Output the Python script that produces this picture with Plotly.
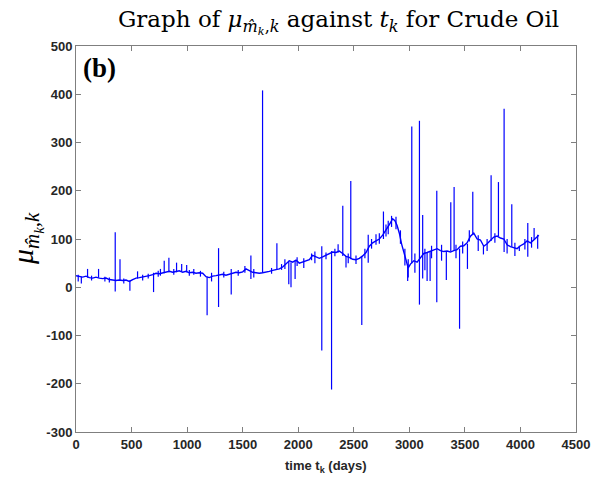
import plotly.graph_objects as go

# Baseline of the series (days, value)
base_t = [0, 30, 60, 90, 120, 150, 180, 210, 240, 270, 300, 330, 360, 390, 420, 450, 480, 510, 540, 570,
          600, 630, 660, 690, 720, 750, 780, 810, 840, 870, 900, 930, 960, 990, 1020, 1050, 1080, 1110, 1140, 1170,
          1200, 1230, 1260, 1290, 1320, 1350, 1380, 1410, 1440, 1470, 1500, 1530, 1560, 1590, 1620, 1650, 1680, 1710,
          1740, 1770, 1800, 1830, 1860, 1890, 1920, 1950, 1980, 2010, 2040, 2070, 2100, 2130, 2160, 2190, 2220, 2250,
          2280, 2310, 2340, 2370, 2400, 2430, 2460, 2490, 2520, 2550, 2580, 2610, 2640, 2670, 2700, 2730, 2760, 2790,
          2820, 2850, 2870, 2890, 2910, 2930, 2950, 2970, 2990, 3010, 3040, 3070, 3100, 3130, 3160, 3190, 3220, 3250,
          3280, 3310, 3340, 3370, 3400, 3430, 3460, 3490, 3520, 3550, 3580, 3610, 3640, 3670, 3700, 3730, 3760, 3790,
          3820, 3850, 3880, 3910, 3940, 3970, 4000, 4030, 4060, 4090, 4120, 4150, 4165]
base_v = [24, 22, 21, 23, 20, 19, 21, 19, 18, 19, 16, 15, 14, 15, 14, 15, 12, 16, 19, 20,
          21, 22, 24, 26, 29, 28, 30, 31, 33, 31, 32, 34, 31, 33, 30, 31, 29, 30, 29, 22,
          20, 23, 24, 26, 27, 25, 27, 29, 31, 30, 32, 38, 35, 31, 30, 29, 30, 31,
          33, 35, 37, 38, 42, 48, 55, 52, 56, 50, 52, 54, 57, 66, 63, 60, 63, 66,
          70, 73, 72, 75, 70, 64, 62, 58, 57, 60, 65, 72, 85, 92, 96, 100, 108, 118,
          130, 142, 138, 128, 112, 90, 72, 52, 40, 48, 55, 52, 60, 70, 72, 75, 78, 80,
          76, 74, 75, 73, 76, 78, 85, 86, 92, 106, 112, 100, 98, 85, 90, 96, 104, 106,
          102, 100, 88, 84, 82, 80, 86, 90, 96, 92, 98, 106, 108]

# Spikes and short excursions: day, upper value, lower value
spike_t = [48, 104, 203, 353, 396, 485, 554, 698, 794, 836, 905, 951, 996, 1180, 1283, 1397, 1574, 1679,
           1808, 1915, 1935, 1972, 2212, 2300, 2359, 2401, 2430, 2473, 2572, 2630, 2767, 2985, 3022, 3091,
           3120, 3160, 3187, 3247, 3333, 3373, 3403, 3452, 3523, 3571, 3667, 3736, 3802, 3853, 3922, 3990,
           4066, 4123, 4155,
           20, 140, 260, 300, 430, 600, 650, 740, 760, 880, 1020, 1060, 1120, 1220, 1330, 1460, 1520, 1600,
           1760, 1850, 1880, 1990, 2050, 2120, 2150, 2250, 2330, 2450, 2520, 2600, 2660, 2700, 2730, 2790,
           2810, 2840, 2880, 2920, 2960, 2990, 3050, 3140, 3200, 3290, 3420, 3480, 3540, 3620, 3700, 3770,
           3880, 3950, 4040, 4100]
spike_hi = [22, 38, 38, 114, 58, 14, 33, 30, 55, 61, 51, 48, 46, 22, 81, 38, 66, 408,
            91, 55, 52, 55, 85, 75, 89, 169, 65, 220, 65, 109, 157, 48, 333, 345,
            150, 72, 75, 200, 75, 176, 208, 80, 90, 198, 85, 232, 218, 370, 172, 86,
            133, 123, 109,
            26, 24, 22, 20, 18, 26, 28, 34, 38, 38, 36, 38, 34, 30, 32, 36, 44, 38,
            40, 48, 58, 62, 60, 70, 74, 72, 80, 70, 66, 80, 100, 110, 112, 130,
            138, 148, 146, 118, 80, 58, 70, 80, 86, 88, 88, 95, 118, 108, 100, 112,
            100, 92, 100, 104]
spike_lo = [8, 20, 20, -9, 14, -7, 18, -10, 29, 31, 31, 32, 31, -58, -41, -15, 17, 30,
            38, 6, 0, 17, -131, -212, 72, 65, 41, 58, -78, 51, 100, 13, 50, -36,
            18, 13, 13, -31, 15, 75, 75, -86, 38, 110, 68, 96, 106, 73, 84, 75,
            63, 98, 80,
            12, 14, 12, 10, 8, 14, 18, 22, 24, 26, 24, 26, 22, 12, 20, 24, 30, 20,
            28, 36, 38, 44, 40, 56, 50, 58, 64, 50, 48, 60, 80, 88, 90, 105,
            110, 125, 120, 90, 45, 20, 30, 35, 60, 55, 60, 70, 95, 75, 75, 92,
            70, 65, 78, 82]

x_ticks = [0, 500, 1000, 1500, 2000, 2500, 3000, 3500, 4000, 4500]
y_ticks = [-300, -200, -100, 0, 100, 200, 300, 400, 500]

sx, sy = [], []
for t, hi, lo in zip(spike_t, spike_hi, spike_lo):
    sx += [t, t, None]
    sy += [lo, hi, None]

fig = go.Figure()
fig.add_trace(go.Scatter(x=base_t, y=base_v, mode="lines",
                         line=dict(color="#0000ff", width=1.4), hoverinfo="skip"))
fig.add_trace(go.Scatter(x=sx, y=sy, mode="lines",
                         line=dict(color="#0000ff", width=1.2), hoverinfo="skip"))

axis_common = dict(showline=True, linecolor="#7f7f7f", linewidth=1, mirror="ticks",
                   ticks="inside", ticklen=5, tickcolor="#7f7f7f", showgrid=False, zeroline=False,
                   tickfont=dict(family="Liberation Sans", size=13, color="#262626", weight="bold"))

fig.update_layout(
    width=607, height=483,
    margin=dict(l=76, r=31, t=46, b=51),
    paper_bgcolor="white", plot_bgcolor="white",
    showlegend=False,
    xaxis=dict(range=[0, 4500], tickvals=x_ticks, ticktext=[str(v) for v in x_ticks], **axis_common),
    yaxis=dict(range=[-300, 500], tickvals=y_ticks, ticktext=[str(v) for v in y_ticks], **axis_common),
    annotations=[
        dict(text="Graph of <i>μ</i><sub><i>m̂<sub>k</sub></i>,<i>k</i></sub> against <i>t</i><sub><i>k</i></sub> for Crude Oil",
             xref="paper", yref="paper", x=0.5, xshift=12, y=1.0, yshift=6, xanchor="center", yanchor="bottom",
             showarrow=False, font=dict(family="DejaVu Serif", size=23, color="black")),
        dict(text="<i>μ</i><sub><i>m̂<sub>k</sub></i>,<i>k</i></sub>",
             xref="paper", yref="paper", x=0, xshift=-50, y=0.5, xanchor="center", yanchor="middle",
             textangle=-90, showarrow=False, font=dict(family="Liberation Serif", size=30, color="black")),
        dict(text="<b>time t<sub>k</sub> (days)</b>",
             xref="paper", yref="paper", x=0.5, y=0, yshift=-24, xanchor="center", yanchor="top",
             showarrow=False, font=dict(family="Liberation Sans", size=13, color="#262626")),
        dict(text="<b>(b)</b>", xref="paper", yref="paper", x=0, xshift=5, y=1, yshift=-5,
             xanchor="left", yanchor="top", showarrow=False,
             font=dict(family="Liberation Serif", size=27, color="black")),
    ],
)

fig.write_html("out.html")
